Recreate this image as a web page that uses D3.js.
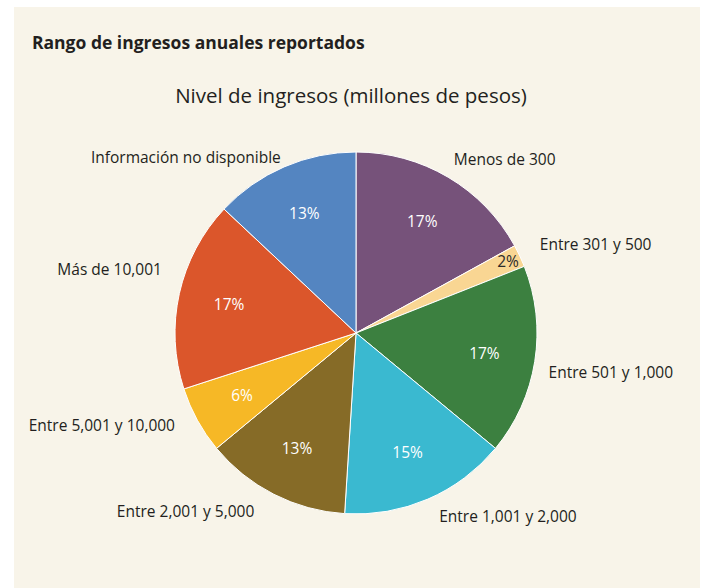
<!DOCTYPE html>
<html>
<head>
<meta charset="utf-8">
<script src="https://cdn.jsdelivr.net/npm/d3@7"></script>
<style>
  html, body { margin: 0; padding: 0; background: #ffffff; }
  text { font-family: "Open Sans", "Noto Sans", sans-serif; }
</style>
</head>
<body>
<div id="chart"></div>
<script>
const WIDTH = 704, HEIGHT = 588;
const CX = 356, CY = 333, RADIUS = 181;

// data, clockwise from 12 o'clock
const categories = ["Menos de 300", "Entre 301 y 500", "Entre 501 y 1,000", "Entre 1,001 y 2,000",
    "Entre 2,001 y 5,000", "Entre 5,001 y 10,000", "Más de 10,001", "Información no disponible"];
const shares = [17, 2, 17, 15, 13, 6, 17, 13];
const colors = ["#76527a", "#f9d693", "#3c8040", "#3ab9d0", "#866b27", "#f6b826", "#db562b", "#5485c1"];
const pctTextColors = ["#fff", "#2a2a2a", "#fff", "#fff", "#fff", "#fff", "#fff", "#fff"];

// hand placed label tweaks (the original labels are not exactly on the arc)
const labelNudge = {
    "Información no disponible": [5, 10],
    "Menos de 300": [-5, 0],
    "Entre 301 y 500": [1, -2],
    "Entre 501 y 1,000": [-7, 8],
    "Entre 1,001 y 2,000": [3, -2],
    "Entre 2,001 y 5,000": [-10, -1],
    "Entre 5,001 y 10,000": [-4, -5],
    "Más de 10,001": [3, -19]
}

const svg = d3.select("#chart")
    .append("svg")
    .attr("width", WIDTH)
    .attr("height", HEIGHT)

svg.append("rect")
    .attr("x", 14).attr("y", 7)
    .attr("width", 686).attr("height", HEIGHT - 7)
    .attr("fill", "#f8f4e9")

svg.append("text")
    .attr("x", 32).attr("y", 49)
    .attr("font-size", 17.5)
    .attr("font-weight", "bold")
    .attr("fill", "#231f20")
    .text("Rango de ingresos anuales reportados")

svg.append("text")
    .attr("x", 351).attr("y", 103)
    .attr("text-anchor", "middle")
    .attr("font-size", 20.5)
    .attr("fill", "#231f20")
    .text("Nivel de ingresos (millones de pesos)")

const data = categories.map((c, i) => ({ name: c, value: shares[i], color: colors[i], pctColor: pctTextColors[i] }))
const pie = d3.pie().sort(null).value(d => d.value)
const arcs = pie(data)

const arc = d3.arc().innerRadius(0).outerRadius(RADIUS)
const pctArc = d3.arc().innerRadius(130).outerRadius(130)
const smallPctArc = d3.arc().innerRadius(168).outerRadius(168)
const labelArc = d3.arc().innerRadius(202).outerRadius(202)

const g = svg.append("g").attr("transform", `translate(${CX},${CY})`)

g.selectAll("path.slice")
    .data(arcs)
    .enter().append("path")
    .attr("class", "slice")
    .attr("d", arc)
    .attr("fill", d => d.data.color)
    .attr("stroke", "#ffffff")
    .attr("stroke-width", 1)

g.selectAll("text.pct")
    .data(arcs)
    .enter().append("text")
    .attr("class", "pct")
    .attr("transform", d => `translate(${(d.data.value < 5 ? smallPctArc : pctArc).centroid(d)})`)
    .attr("text-anchor", "middle")
    .attr("dy", "0.35em")
    .attr("font-size", 15.5)
    .attr("fill", d => d.data.pctColor)
    .text(d => d.data.value + "%")

const midAngle = d => (d.startAngle + d.endAngle) / 2

g.selectAll("text.lbl")
    .data(arcs)
    .enter().append("text")
    .attr("class", "lbl")
    .attr("transform", d => {
        const [x, y] = labelArc.centroid(d)
        const [nx, ny] = labelNudge[d.data.name] || [0, 0]
        return `translate(${x + nx},${y + ny})`
    })
    .attr("text-anchor", d => midAngle(d) < Math.PI ? "start" : "end")
    .attr("dy", "0.35em")
    .attr("font-size", 15.5)
    .attr("fill", "#231f20")
    .text(d => d.data.name)
</script>
</body>
</html>
